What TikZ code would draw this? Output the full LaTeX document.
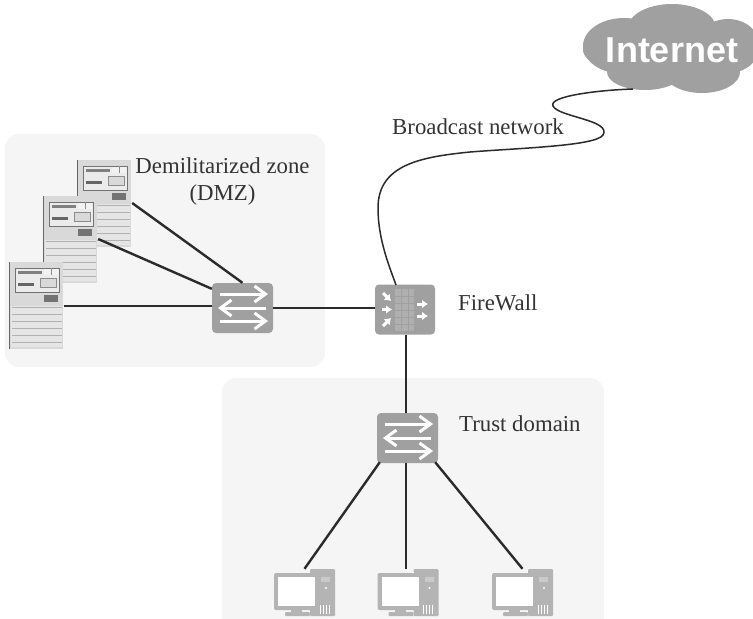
\documentclass[tikz,border=0pt]{standalone}
\usepackage{fontspec}
\usetikzlibrary{arrows.meta}
\setmainfont{Liberation Serif}
\newfontfamily\netfont{Liberation Sans}
\definecolor{panelc}{HTML}{F5F5F5}
\definecolor{devc}{HTML}{A0A0A0}
\definecolor{pcc}{HTML}{B4B4B4}
\definecolor{linec}{HTML}{2B2B2B}
\definecolor{textc}{HTML}{333333}
\newcommand{\serverart}[2]{%
 \begin{scope}[shift={(#1,#2)}]
  \fill[fill=black!15] (0,0) rectangle (54,87);
  \fill[black!10] (2,44) rectangle (53,85);
  \foreach \yy in {45,52,...,81}{\draw[black!30,line width=1pt] (3,\yy) -- (53,\yy);}
  \draw[black!60,line width=1.5pt] (.5,0) -- (.5,87);
  \fill[black!8] (6,6) rectangle (50,30);
  \draw[black!55,line width=1pt] (6,6) rectangle (50,30);
  \fill[black!50] (8.5,9) rectangle (33,12);
  \fill[black!5] (35,7) rectangle (49,13);
  \draw[black!45,line width=.6pt] (42,6) -- (42,13);
  \fill[black!60] (9,21) rectangle (25,24);
  \fill[black!15,draw=black!45,line width=.6pt] (31,16) rectangle (47,25);
  \fill[black!55] (35,33) rectangle (49,40);
 \end{scope}}
\newcommand{\switchart}[1]{%
 \begin{scope}[shift={(#1)},white,line width=3pt]
  \draw (-23,-14) -- (22,-14);
  \draw (12,-22) -- (23,-14) -- (12,-6);
  \draw (23,0) -- (-21,0);
  \draw (-11,-8) -- (-22,0) -- (-11,8);
  \draw (-23,13) -- (22,13);
  \draw (12,5) -- (23,13) -- (12,21);
 \end{scope}}
\newcommand{\pcart}[1]{%
 \begin{scope}[shift={(#1)},shift={(-30.5,-23.5)}]
  \fill[fill=pcc,rounded corners=1pt] (36,0) rectangle (61,47);
  \fill[white,opacity=.3] (47,8) rectangle (56,13);
  \fill[white] (52,19) circle (1.2);
  \foreach \xx in {46,49,52,55}{\draw[white,line width=.7pt] (\xx,36) -- (\xx,45);}
  \fill[white] (34,3) rectangle (36,41);
  \fill[fill=pcc,rounded corners=2pt] (0,4) rectangle (45,41);
  \fill[white] (4,8) rectangle (41,37);
  \fill[pcc] (17,41) rectangle (28,43);
  \fill[pcc,rounded corners=1pt] (11,43) rectangle (36,47);
 \end{scope}}
\tikzset{
 lbl/.style={text=textc,font=\fontsize{22.8}{26}\selectfont,inner sep=0pt},
 conn/.style={draw=linec,line width=2.4pt},
 swbox/.style={fill=devc,rounded corners=4pt,minimum width=61pt,minimum height=50pt,inner sep=0pt},
 srvbox/.style={minimum width=55pt,minimum height=87pt,inner sep=0pt},
 pcbox/.style={minimum width=61pt,minimum height=47pt,inner sep=0pt},
 panel/.style={fill=panelc,rounded corners=14pt}
}
\begin{document}
\begin{tikzpicture}[x=1pt,y=-1pt]
\useasboundingbox (0,0) rectangle (753,619);
\begin{scope}
\clip (0,0) rectangle (753,619);
\fill[panel] (5,134) rectangle (325,367);
\fill[panel] (222,378) rectangle (604,640);
% cloud
\fill[devc] (668,50) ellipse [x radius=85,y radius=27];
\fill[devc] (672,28) ellipse [x radius=44,y radius=24];
\fill[devc] (624,46) ellipse [x radius=41,y radius=28];
\fill[devc] (645,72) ellipse [x radius=38,y radius=18];
\fill[devc] (702,72) ellipse [x radius=38,y radius=21];
\fill[devc] (728,46) ellipse [x radius=32,y radius=27];
\end{scope}
\node[inner sep=0pt,text=white,font=\netfont\bfseries\fontsize{36}{40}\selectfont] (cloud) at (672,50) {Internet};
\coordinate (cloudp) at (633,89);
% servers
\node[srvbox] (srv1) at (104.5,203) {};
\serverart{77}{160}
\node[srvbox] (srv2) at (70.5,239) {};
\serverart{43}{196}
\node[srvbox] (srv3) at (36,306) {};
\serverart{9}{262}
% switches, firewall
\node[swbox] (sw1) at (242.5,308) {};
\switchart{242.5,308}
\node[swbox] (sw2) at (407.5,438) {};
\switchart{407.5,438}
\node[swbox,minimum width=60pt] (fw) at (405,309.5) {};
\fill[white,opacity=.16] (395,289) rectangle (414,331);
\foreach \yy in {296,303,...,331}{\draw[devc,line width=.6pt] (395,\yy) -- (414,\yy);}
\foreach \xx in {401,408}{\draw[devc,line width=.5pt] (\xx,289) -- (\xx,331);}
\begin{scope}[white,line width=3pt,-{Latex[length=6pt,width=9pt]}]
 \draw (383,293) -- (391,301);
 \draw (382,309.5) -- (392,309.5);
 \draw (383,326) -- (391,318);
 \draw (417,304) -- (428,304);
 \draw (417,316) -- (428,316);
\end{scope}
\coordinate (fwtop) at (396,285);
% pcs
\node[pcbox] (pc1) at (304.5,592.5) {}; \pcart{304.5,592.5}
\node[pcbox] (pc2) at (408,592.5) {};   \pcart{408,592.5}
\node[pcbox] (pc3) at (522.5,592.5) {}; \pcart{522.5,592.5}
% connectors
\draw[conn] (srv1.east) -- (sw1.north);
\draw[conn] (srv2.east) -- (sw1.148);
\draw[conn] (srv3.east) -- (sw1.west |- srv3.east);
\draw[conn] (sw1.east) -- (fw.west |- sw1.east);
\draw[conn] ([xshift=-1.5pt]sw2.north |- fw.south) -- ([xshift=-1.5pt]sw2.north);
\draw[conn] ([xshift=3pt,yshift=1pt]sw2.south west) -- (pc1.north);
\draw[conn] ([xshift=-1.5pt]sw2.south) -- ([xshift=-2pt]pc2.north);
\draw[conn] ([xshift=-3pt,yshift=1pt]sw2.south east) -- (pc3.north);
\draw[draw=linec,line width=1.5pt] (cloudp) .. controls (600,90) and (548,96) .. (553,106)
  .. controls (558,117) and (612,120) .. (603,135)
  .. controls (596,146) and (520,148) .. (470,152)
  .. controls (420,157) and (378,165) .. (378,208)
  .. controls (378,240) and (390,268) .. (fwtop);
% labels
\node[lbl,anchor=west] (bn) at (392,127) {Broadcast network};
\node[lbl] (dz) at (222.5,166) {Demilitarized zone};
\node[lbl] (dm) at (222.5,195) {(DMZ)};
\node[lbl,anchor=west] (fl) at (458,303) {FireWall};
\node[lbl,anchor=west] (td) at (459,424) {Trust domain};
\end{tikzpicture}
\end{document}
